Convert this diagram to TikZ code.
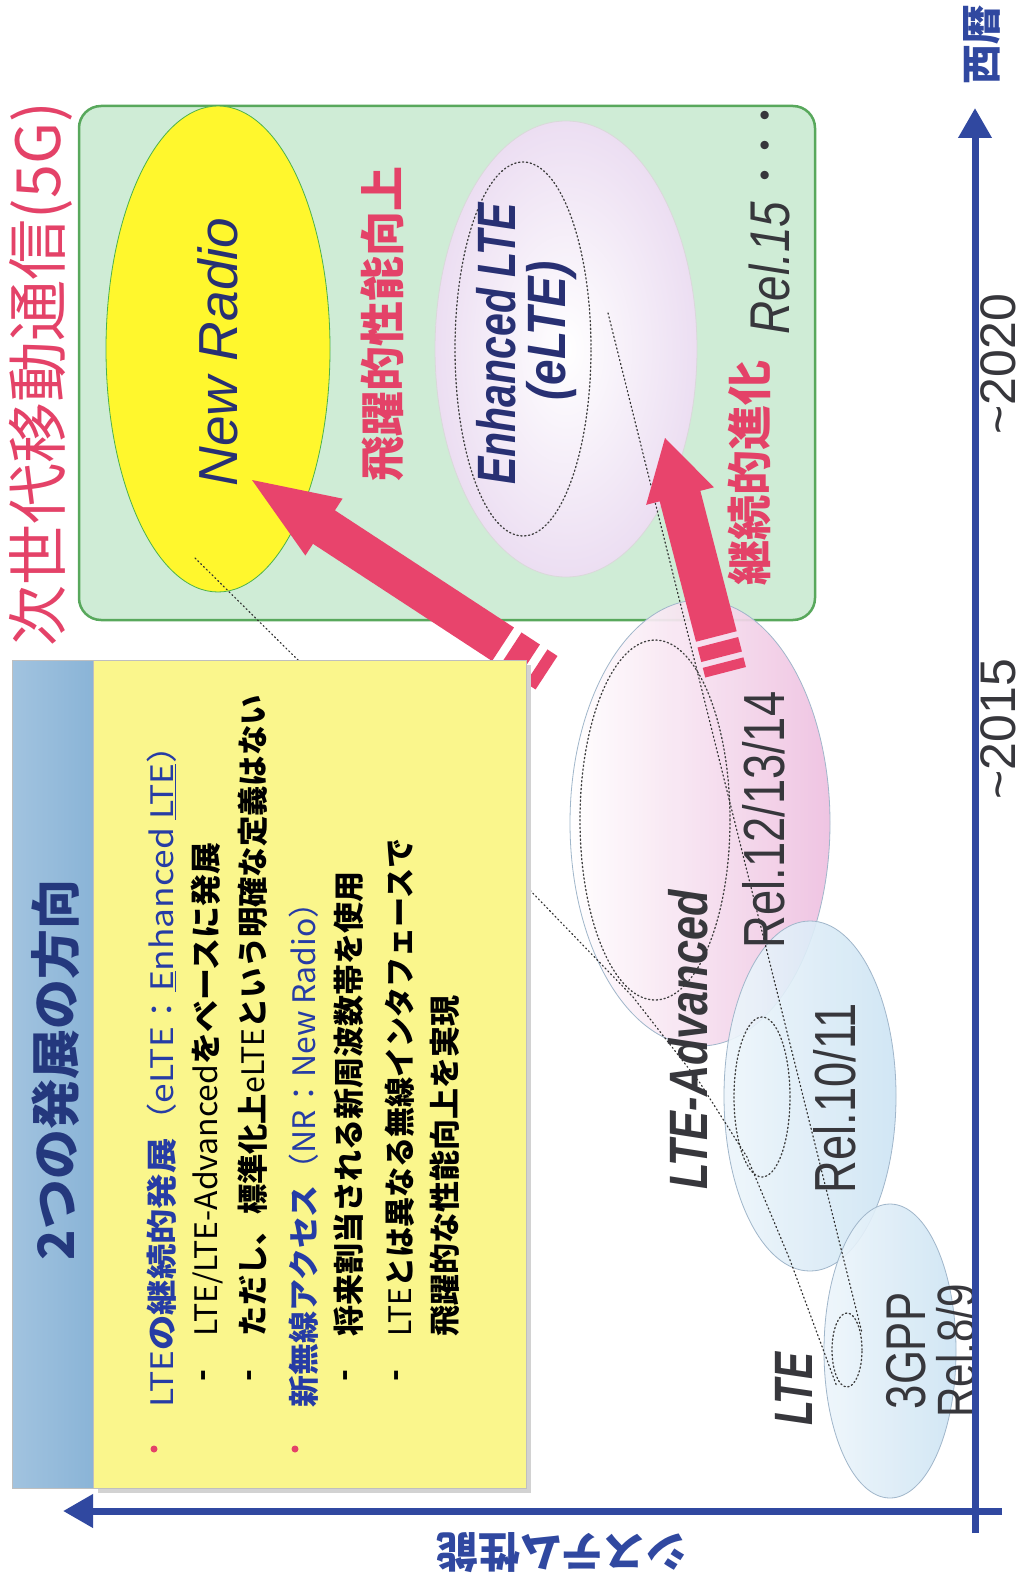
\documentclass[tikz,border=0pt]{standalone}
\usepackage{fontspec}
\setmainfont{Liberation Sans}
\newfontfamily\jp{Noto Sans CJK JP}
\usetikzlibrary{shapes.geometric,arrows.meta}
\definecolor{myred}{RGB}{228,66,104}
\definecolor{arrowred}{RGB}{232,68,108}
\definecolor{navy}{RGB}{36,56,125}
\definecolor{nrblue}{RGB}{40,48,115}
\definecolor{txtblue}{RGB}{38,60,165}
\definecolor{axisblue}{RGB}{48,72,160}
\definecolor{greenfill}{RGB}{207,236,214}
\definecolor{greenline}{RGB}{88,168,92}
\definecolor{nryellow}{RGB}{255,247,45}
\definecolor{lav}{RGB}{236,222,242}
\definecolor{pinkA}{RGB}{238,192,224}
\definecolor{lblue}{RGB}{205,228,244}
\definecolor{barblue}{RGB}{138,180,215}
\definecolor{boxyellow}{RGB}{250,246,140}
\definecolor{dgray}{RGB}{55,55,60}
\definecolor{ellline}{RGB}{160,182,202}
\newcommand\nar[2]{\scalebox{#1}[1]{#2}}
\begin{document}
\begin{tikzpicture}[x=1pt,y=-1pt,
  every node/.style={inner sep=0pt,outer sep=0pt},
  rot/.style={rotate=90},
  jpbody/.style={font={\jp\bfseries\fontsize{31}{34}\selectfont}, rotate=90, anchor=west},
  dashmark/.style={font={\jp\bfseries\fontsize{31}{34}\selectfont}, rotate=90},
  ell/.style={ellipse, draw=ellline, line width=0.8pt},
  inell/.style={ellipse, draw=gray!50!black, dash pattern=on 1.3pt off 2.6pt, line width=1.3pt, line cap=round},
  zoomline/.style={draw=gray!40!black, dash pattern=on 1.2pt off 2.8pt, line width=1.2pt, line cap=round},
  bulletdot/.style={circle, fill=myred, minimum size=7pt},
  relstyle/.style={rotate=90, text=dgray, font={\fontsize{58}{60}\selectfont}},
]
\useasboundingbox (0,0) rectangle (1027,1586);
\fill[white] (0,0) rectangle (1027,1586);

% green box (5G)
\node[draw=greenline, line width=2.5pt, fill=greenfill, rounded corners=22pt,
      minimum width=736pt, minimum height=514pt] (gbox) at (447,363) {};
\node[rot, text=myred, font={\jp\fontsize{61}{63}\selectfont}] (t5g) at (41,374) {次世代移動通信(5G)};

% ellipses
\node[ell, fill=nryellow, draw=gray!60!green, minimum width=224pt, minimum height=486pt] (nr) at (218,349) {};
\node[ell, draw=gray!30, inner color=white, outer color=lav, minimum width=262pt, minimum height=456pt] (el) at (566,349) {};
\node[inell, minimum width=136pt, minimum height=374pt] (elin) at (523,349) {};

\node[ell, left color=white, right color=pinkA, fill opacity=0.92, minimum width=260pt, minimum height=446pt] (la) at (700,823) {};
\node[ell, left color=lblue!35, right color=lblue, fill opacity=0.9, minimum width=172pt, minimum height=350pt] (r10) at (810,1096) {};
\node[ell, left color=lblue!35, right color=lblue, fill opacity=0.9, minimum width=132pt, minimum height=294pt] (r8) at (890,1351) {};
\node[inell, minimum width=150pt, minimum height=360pt] (lain) at (655,820) {};
\node[inell, minimum width=56pt, minimum height=160pt] (r10in) at (762,1097) {};
\node[inell, minimum width=30pt, minimum height=74pt] (ltein) at (847,1350) {};

% zoom lines
\coordinate (z0) at (195,558);
\coordinate (z1) at (523,883);
\coordinate (z2) at (633,997);
\coordinate (z3) at (700,1083);
\coordinate (z4) at (747,1157);
\coordinate (z5) at (790,1260);
\coordinate (z6) at (837,1387);
\draw[zoomline] (z0) -- (z1) -- (z2) -- (z3) -- (z4) -- (z5) -- (z6);
\coordinate (w0) at (608,313);
\coordinate (w1) at (862,1333);
\draw[zoomline] (w0) -- (w1);

% red arrows
\begin{scope}[shift={(252,480)}, rotate=-33.2]
  \fill[arrowred] (0,0) -- (86,-34) -- (86,-20) -- (300,-20) -- (300,20) -- (86,20) -- (86,34) -- cycle;
  \fill[arrowred] (309,-20) rectangle (331,20);
  \fill[arrowred] (340,-20) rectangle (352,20);
\end{scope}
\begin{scope}[shift={(665,438)}, rotate=-75.5]
  \fill[arrowred] (0,0) -- (60,-35) -- (60,-21) -- (205,-21) -- (205,21) -- (60,21) -- (60,35) -- cycle;
  \fill[arrowred] (211,-21) rectangle (226,21);
  \fill[arrowred] (232,-21) rectangle (242,21);
\end{scope}

% yellow box
\fill[gray!35] (98,665) rectangle (531,1493);
\node[fill=boxyellow, draw=gray!50, minimum width=433pt, minimum height=828pt] (ybox) at (309.5,1074) {};
\node[left color=barblue!80!white, right color=barblue, draw=gray!50, minimum width=81pt, minimum height=828pt] (tbar) at (52.5,1074) {};
\node[rot, text=navy, font={\jp\bfseries\fontsize{50}{52}\selectfont}] (ttl) at (56,1070) {2つの発展の方向};

\node[bulletdot] (b1) at (154,1449) {};
\node[jpbody, text=txtblue] (l1) at (162,1407) {\nar{1.14}{{\mdseries LTE}の継続的発展{\mdseries （eLTE：\underline{E}nhanced \underline{LTE}）}}};
\node[dashmark] (d2) at (207,1376) {-};
\node[jpbody] (l2) at (207,1336) {\nar{1.03}{{\mdseries LTE/LTE-Advanced}をベースに発展}};
\node[dashmark] (d3) at (253,1376) {-};
\node[jpbody] (l3) at (253,1336) {\nar{0.977}{ただし、標準化上{\mdseries eLTE}という明確な定義はない}};
\node[bulletdot] (b2) at (295,1449) {};
\node[jpbody, text=txtblue] (l4) at (304,1407) {\nar{1.03}{新無線アクセス{\mdseries （NR：New Radio）}}};
\node[dashmark] (d5) at (349,1376) {-};
\node[jpbody] (l5) at (349,1336) {将来割当される新周波数帯を使用};
\node[dashmark] (d6) at (400,1376) {-};
\node[jpbody] (l6) at (400,1336) {\nar{0.97}{{\mdseries LTE}とは異なる無線インタフェースで}};
\node[jpbody] (l7) at (445,1336) {飛躍的な性能向上を実現};

% texts in green area
\node[rot, text=nrblue, font={\itshape\fontsize{55}{60}\selectfont}] (nrt) at (218,352) {New Radio};
\node[rot, text=myred, font={\jp\bfseries\fontsize{45}{48}\selectfont}] (hy) at (383,324) {飛躍的性能向上};
\node[rot, text=nrblue, font={\bfseries\itshape\fontsize{54}{58}\selectfont}] (elt1) at (496,344) {\nar{0.76}{Enhanced LTE}};
\node[rot, text=nrblue, font={\bfseries\itshape\fontsize{54}{58}\selectfont}] (elt2) at (552,331) {\nar{0.85}{(eLTE)}};
\node[rot, text=myred, font={\jp\bfseries\fontsize{45}{48}\selectfont}] (kz) at (749,473) {継続的進化};
\node[rot, text=dgray, font={\itshape\fontsize{56}{60}\selectfont}] (r15) at (769,268) {\nar{0.82}{Rel.15}};
\node[rot, text=dgray, font={\jp\bfseries\fontsize{30}{32}\selectfont}] (dots) at (769,146) {・・・};

% texts on the lower ellipses
\node[rot, text=dgray, font={\bfseries\itshape\fontsize{54}{58}\selectfont}] (lat) at (688,1040) {\nar{0.8}{LTE-Advanced}};
\node[relstyle] (r12) at (764,820) {\nar{0.78}{Rel.12/13/14}};
\node[relstyle] (r10t) at (835,1098) {\nar{0.78}{Rel.10/11}};
\node[rot, text=dgray, font={\bfseries\itshape\fontsize{54}{58}\selectfont}] (lte) at (794,1389) {\nar{0.75}{LTE}};
\node[relstyle, font={\fontsize{56}{60}\selectfont}] (gpp) at (906,1351) {\nar{0.78}{3GPP}};
\node[relstyle, font={\fontsize{54}{58}\selectfont}] (r8t) at (956,1351) {\nar{0.78}{Rel.8/9}};

% axes
\coordinate (xa0) at (975,1533);
\coordinate (xa1) at (975,108);
\coordinate (ya0) at (1002,1511);
\coordinate (ya1) at (63,1511);
\draw[axisblue, line width=7pt, -{Triangle[width=32pt,length=30pt]}] (xa0) -- (xa1);
\draw[axisblue, line width=7pt, -{Triangle[width=32pt,length=30pt]}] (ya0) -- (ya1);
\node[rot, text=dgray, font={\fontsize{50}{52}\selectfont}] (y2020) at (998,364) {\textasciitilde2020};
\node[rot, text=dgray, font={\fontsize{50}{52}\selectfont}] (y2015) at (998,729) {\textasciitilde2015};
\node[rot, text=axisblue, font={\jp\bfseries\fontsize{40}{42}\selectfont}] (seireki) at (982,45) {西暦};
\node[rotate=180, text=axisblue, font={\jp\bfseries\fontsize{42}{44}\selectfont}] (perf) at (562,1553) {システム性能};
\end{tikzpicture}
\end{document}
